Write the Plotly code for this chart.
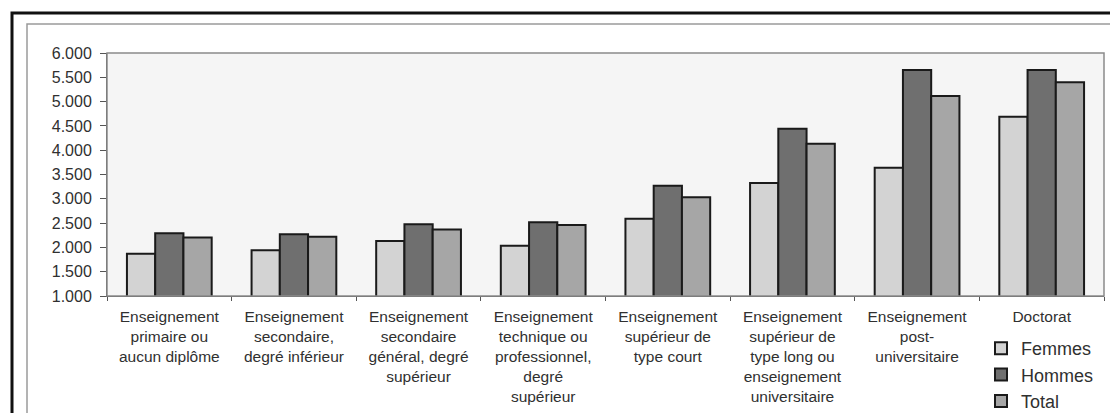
import plotly.graph_objects as go

# Education levels (x categories)
categories = [
    "Enseignement<br>primaire ou<br>aucun diplôme",
    "Enseignement<br>secondaire,<br>degré inférieur",
    "Enseignement<br>secondaire<br>général, degré<br>supérieur",
    "Enseignement<br>technique ou<br>professionnel,<br>degré<br>supérieur",
    "Enseignement<br>supérieur de<br>type court",
    "Enseignement<br>supérieur de<br>type long ou<br>enseignement<br>universitaire",
    "Enseignement<br>post-<br>universitaire",
    "Doctorat",
]

femmes = [1870, 1940, 2130, 2035, 2590, 3325, 3640, 4690]
hommes = [2290, 2270, 2475, 2520, 3270, 4440, 5650, 5650]
total = [2205, 2220, 2370, 2460, 3030, 4135, 5115, 5400]

y_ticks = [1000, 1500, 2000, 2500, 3000, 3500, 4000, 4500, 5000, 5500, 6000]

W, H = 1110, 413
L, R, T, B = 107, 6, 53, 117
pw, ph = W - L - R, H - T - B


def px(x):
    return (x - L) / pw


def py(y):
    return (H - B - y) / ph


font_family = "Liberation Sans, Arial, sans-serif"
text_color = "#303030"

fig = go.Figure()
series = [
    ("Femmes", femmes, "#d3d3d3"),
    ("Hommes", hommes, "#6f6f6f"),
    ("Total", total, "#a6a6a6"),
]
for name, vals, color in series:
    fig.add_trace(go.Bar(
        name=name, x=categories, y=vals,
        marker=dict(color=color, line=dict(color="#1a1a1a", width=2)),
    ))

fig.update_layout(
    width=W, height=H,
    autosize=False,
    margin=dict(l=L, r=R, t=T, b=B, autoexpand=False),
    paper_bgcolor="white",
    plot_bgcolor="#f5f5f5",
    barmode="group",
    bargap=0.32,
    bargroupgap=0,
    separators=",.",
    font=dict(family=font_family, size=16, color=text_color),
    xaxis=dict(
        automargin=False,
        tickson="boundaries", ticks="outside", ticklen=4, tickcolor="#555",
        ticklabelstandoff=6,
        showline=True, linecolor="#555", linewidth=1, mirror=False,
        showgrid=False, tickangle=0,
        tickfont=dict(size=15.5, family=font_family, color=text_color),
    ),
    yaxis=dict(
        automargin=False,
        range=[1000, 6000], tickvals=y_ticks, tickformat=",d",
        ticks="outside", ticklen=6, tickcolor="#555",
        ticklabelstandoff=5,
        showline=True, linecolor="#555", linewidth=1,
        showgrid=False, zeroline=False,
        tickfont=dict(size=16, family=font_family, color=text_color),
    ),
    legend=dict(
        xref="container", yref="container",
        x=981 / W, y=1 - 330 / H, xanchor="left", yanchor="top",
        bgcolor="rgba(0,0,0,0)",
        font=dict(size=18, family=font_family, color=text_color),
        itemwidth=30, tracegroupgap=0,
    ),
    shapes=[
        # plot area outline
        dict(type="rect", xref="paper", yref="paper", x0=0, x1=1, y0=0, y1=1,
             line=dict(color="#8a8a8a", width=1.5), layer="above"),
        # outer black frame
        dict(type="rect", xref="paper", yref="paper",
             x0=px(12), x1=px(W + 20), y0=py(H + 20), y1=py(13),
             line=dict(color="#111", width=3)),
        # inner gray frame
        dict(type="rect", xref="paper", yref="paper",
             x0=px(27), x1=px(W + 20), y0=py(H + 20), y1=py(24),
             line=dict(color="#9a9a9a", width=1.5)),
    ],
)

fig.write_html("out.html")
